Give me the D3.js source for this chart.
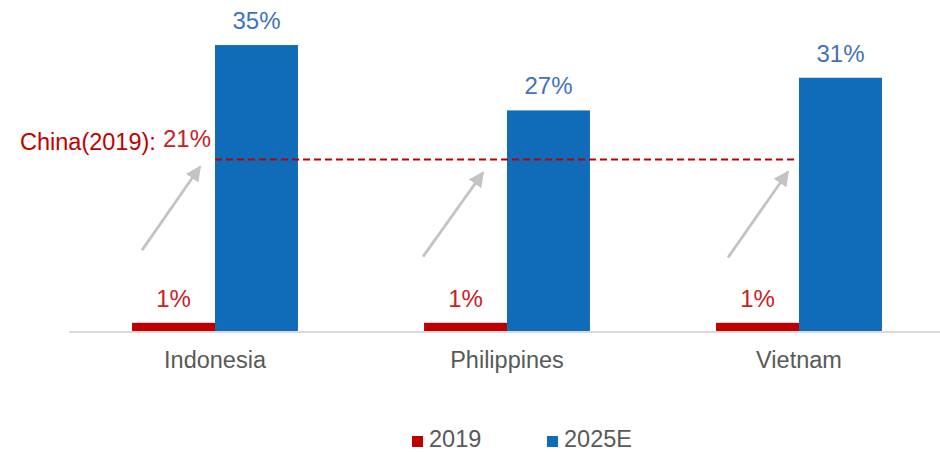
<!DOCTYPE html>
<html>
<head>
<meta charset="utf-8">
<script src="https://cdn.jsdelivr.net/npm/d3@7"></script>
<style>
  body { margin: 0; background: #fff; }
  text { font-family: "Liberation Sans", Arial, sans-serif; }
</style>
</head>
<body>
<div id="chart"></div>
<script>
const countries = ['Indonesia', 'Philippines', 'Vietnam'];
const seriesNames = ['2019', '2025E'];
const values2019 = [1, 1, 1];
const values2025 = [35, 27, 31];
const chinaLevel = 21;
const chinaLabel = 'China(2019):';
// gray arrows: start and tip in % units, x as offset from the group's first bar
const arrowFrom = [9.9, 9.1, 9.0];
const arrowTo = [20.1, 19.4, 19.5];
const arrowDx0 = [10, -1, 12];
const arrowDx1 = [68, 59, 72];

const colors = { '2019': '#c00000', '2025E': '#106cb8' };
const labelColors = { '2019': '#c9211e', '2025E': '#3f72bb' };

const width = 940;
const height = 452;
const baseY = 331;

const svg = d3.select('#chart').append('svg')
  .attr('width', width)
  .attr('height', height);

const defs = svg.append('defs');
defs.append('marker')
  .attr('id', 'head')
  .attr('viewBox', '0 0 10 10')
  .attr('refX', 9)
  .attr('refY', 5)
  .attr('markerWidth', 5.5)
  .attr('markerHeight', 5.5)
  .attr('markerUnits', 'strokeWidth')
  .attr('orient', 'auto')
  .append('path')
  .attr('d', 'M0,0 L10,5 L0,10 Z')
  .attr('fill', '#c3c3c3');

const x0 = d3.scaleBand()
  .domain(countries)
  .range([69, 945])
  .padding(0);

const x1 = d3.scaleBand()
  .domain(seriesNames)
  .range([0, x0.bandwidth()])
  .paddingInner(0)
  .paddingOuter(0.76);

const y = d3.scaleLinear()
  .domain([0, 40])
  .range([baseY, baseY - 40 * 8.17]);

const data = countries.map((c, i) => ({
  country: c,
  vals: [
    { key: '2019', v: values2019[i] },
    { key: '2025E', v: values2025[i] },
  ],
}));

// baseline
svg.append('line')
  .attr('x1', 69)
  .attr('x2', width)
  .attr('y1', y(0) + 1)
  .attr('y2', y(0) + 1)
  .attr('stroke', '#d9d9d9')
  .attr('stroke-width', 2);

const groups = svg.selectAll('.group')
  .data(data)
  .enter().append('g')
  .attr('class', 'group')
  .attr('transform', d => `translate(${x0(d.country)},0)`);

groups.selectAll('rect')
  .data(d => d.vals)
  .enter().append('rect')
  .attr('x', d => x1(d.key))
  .attr('y', d => y(d.v))
  .attr('width', x1.bandwidth())
  .attr('height', d => y(0) - y(d.v))
  .attr('fill', d => colors[d.key]);

groups.selectAll('.val')
  .data(d => d.vals)
  .enter().append('text')
  .attr('class', 'val')
  .attr('x', d => x1(d.key) + x1.bandwidth() / 2)
  .attr('y', d => y(d.v) - 16)
  .attr('text-anchor', 'middle')
  .attr('font-size', 24)
  .attr('fill', d => labelColors[d.key])
  .text(d => `${d.v}%`);

// China reference line
svg.append('line')
  .attr('x1', x0(countries[0]) + x1('2025E'))
  .attr('x2', x0(countries[2]) + x1('2025E') - 3)
  .attr('y1', y(chinaLevel))
  .attr('y2', y(chinaLevel))
  .attr('stroke', '#c00000')
  .attr('stroke-width', 2)
  .attr('stroke-dasharray', '7,4');

svg.append('text')
  .attr('x', 20)
  .attr('y', y(chinaLevel) - 9)
  .attr('font-size', 23.5)
  .attr('fill', '#c00000')
  .text(chinaLabel);

svg.append('text')
  .attr('x', 163)
  .attr('y', y(chinaLevel) - 12)
  .attr('font-size', 24)
  .attr('fill', '#c9211e')
  .text(`${chinaLevel}%`);

// arrows
groups.append('line')
  .attr('x1', (d, i) => x1('2019') + arrowDx0[i])
  .attr('y1', (d, i) => y(arrowFrom[i]))
  .attr('x2', (d, i) => x1('2019') + arrowDx1[i])
  .attr('y2', (d, i) => y(arrowTo[i]))
  .attr('stroke', '#c3c3c3')
  .attr('stroke-width', 2.8)
  .attr('marker-end', 'url(#head)');

// category labels
groups.append('text')
  .attr('x', x0.bandwidth() / 2)
  .attr('y', 368)
  .attr('text-anchor', 'middle')
  .attr('font-size', 23.5)
  .attr('fill', '#595959')
  .text(d => d.country);

// legend
const legendX = [412, 547];
const legend = svg.selectAll('.legend')
  .data(seriesNames)
  .enter().append('g')
  .attr('class', 'legend')
  .attr('transform', (d, i) => `translate(${legendX[i]},436)`);

legend.append('rect')
  .attr('width', 11)
  .attr('height', 11)
  .attr('fill', d => colors[d]);

legend.append('text')
  .attr('x', 17)
  .attr('y', 11)
  .attr('font-size', 23.5)
  .attr('fill', '#595959')
  .text(d => d);
</script>
</body>
</html>
